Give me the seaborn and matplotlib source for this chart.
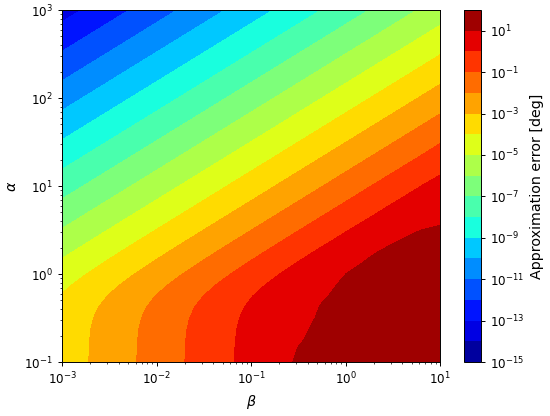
import numpy as np
import seaborn as sns
import matplotlib.pyplot as plt
from matplotlib.ticker import FixedLocator, FuncFormatter

# grid nodes (log10 of beta and alpha)
beta_exp = [-3, -2.5, -2, -1.5, -1, -0.75, -0.5, -0.25, 0, 0.25, 0.5, 0.75, 1]
alpha_exp = [-1, -0.875, -0.75, -0.625, -0.5, -0.375, -0.25, -0.125, 0,
             0.125, 0.25, 0.375, 0.5, 0.75, 1, 1.5, 2, 2.5, 3]

# log10 of approximation error [deg], one row per alpha node
log_err = [
    [-3.560, -2.575, -1.590, -0.609, 0.339, 0.757, 1.075, 1.261, 1.342, 1.372, 1.382, 1.386, 1.387],
    [-3.565, -2.580, -1.596, -0.615, 0.325, 0.728, 1.023, 1.185, 1.253, 1.278, 1.286, 1.289, 1.290],
    [-3.577, -2.592, -1.608, -0.629, 0.304, 0.694, 0.967, 1.111, 1.169, 1.190, 1.197, 1.199, 1.200],
    [-3.602, -2.617, -1.633, -0.654, 0.278, 0.665, 0.936, 1.077, 1.135, 1.155, 1.162, 1.164, 1.165],
    [-3.657, -2.672, -1.688, -0.708, 0.226, 0.618, 0.895, 1.043, 1.103, 1.125, 1.131, 1.134, 1.135],
    [-3.764, -2.779, -1.795, -0.814, 0.131, 0.541, 0.847, 1.020, 1.095, 1.122, 1.131, 1.134, 1.135],
    [-3.944, -2.959, -1.974, -0.992, -0.034, 0.400, 0.750, 0.971, 1.075, 1.115, 1.128, 1.133, 1.134],
    [-4.200, -3.215, -2.230, -1.247, -0.276, 0.186, 0.593, 0.895, 1.065, 1.137, 1.163, 1.172, 1.175],
    [-4.511, -3.526, -2.541, -1.557, -0.578, -0.100, 0.351, 0.734, 0.998, 1.134, 1.189, 1.208, 1.214],
    [-4.855, -3.870, -2.885, -1.900, -0.918, -0.432, 0.042, 0.480, 0.838, 1.068, 1.179, 1.221, 1.236],
    [-5.215, -4.230, -3.245, -2.261, -1.276, -0.786, -0.302, 0.167, 0.592, 0.926, 1.127, 1.218, 1.252],
    [-5.582, -4.597, -3.612, -2.627, -1.643, -1.151, -0.663, -0.182, 0.275, 0.673, 0.960, 1.115, 1.180],
    [-5.952, -4.967, -3.982, -2.997, -2.012, -1.520, -1.030, -0.543, -0.069, 0.373, 0.736, 0.974, 1.090],
    [-6.695, -5.710, -4.725, -3.740, -2.756, -2.264, -1.773, -1.279, -0.791, -0.311, 0.146, 0.520, 0.680],
    [-7.440, -6.455, -5.470, -4.485, -3.500, -3.008, -2.516, -2.024, -1.531, -1.041, -0.555, -0.084, 0.348],
    [-8.930, -7.945, -6.960, -5.975, -4.990, -4.498, -4.005, -3.513, -3.021, -2.528, -2.036, -1.544, -1.053],
    [-10.420, -9.435, -8.450, -7.465, -6.480, -5.988, -5.495, -5.003, -4.510, -4.018, -3.525, -3.033, -2.540],
    [-11.910, -10.925, -9.940, -8.955, -7.970, -7.478, -6.985, -6.493, -6.000, -5.508, -5.015, -4.523, -4.030],
    [-13.400, -12.415, -11.430, -10.445, -9.460, -8.968, -8.475, -7.983, -7.490, -6.998, -6.505, -6.013, -5.520],
]

levels = list(range(-15, 3))
cbar_ticks = list(range(-15, 2, 2))

sns.set_style("ticks")
plt.rcParams.update({
    "font.family": ["DejaVu Sans"],
    "font.size": 8.6,
    "axes.edgecolor": "black",
    "axes.linewidth": 0.7,
    "text.color": "black",
    "axes.labelcolor": "black",
    "xtick.color": "black",
    "ytick.color": "black",
    "xtick.major.size": 3.0,
    "ytick.major.size": 3.0,
    "xtick.minor.size": 1.7,
    "ytick.minor.size": 1.7,
    "xtick.major.width": 0.7,
    "ytick.major.width": 0.7,
    "xtick.minor.width": 0.5,
    "ytick.minor.width": 0.5,
})

fig = plt.figure(figsize=(5.5, 4.16), dpi=100)
ax = fig.add_axes([62 / 550, 54 / 416, 378 / 550, 352 / 416])
cax = fig.add_axes([464 / 550, 54 / 416, 17 / 550, 352 / 416])

cs = ax.contourf(beta_exp, alpha_exp, np.array(log_err), levels=levels, cmap="jet")
ax.set_xlim(-3, 1)
ax.set_ylim(-1, 3)

fmt = FuncFormatter(lambda v, p: r"$\mathdefault{10^{%d}}$" % int(round(v)))


def minor_locs(lo, hi):
    return [d + np.log10(k) for d in range(lo, hi) for k in range(2, 10)]


ax.xaxis.set_major_locator(FixedLocator(range(-3, 2)))
ax.xaxis.set_minor_locator(FixedLocator(minor_locs(-3, 1)))
ax.yaxis.set_major_locator(FixedLocator(range(-1, 4)))
ax.yaxis.set_minor_locator(FixedLocator(minor_locs(-1, 3)))
ax.xaxis.set_major_formatter(fmt)
ax.yaxis.set_major_formatter(fmt)
ax.set_xlabel(r"$\beta$", fontsize=10.3)
ax.set_ylabel(r"$\alpha$", fontsize=10.3)

cb = fig.colorbar(cs, cax=cax, ticks=cbar_ticks)
cb.ax.yaxis.set_major_formatter(fmt)
cb.ax.minorticks_off()
cb.outline.set_linewidth(0.7)
cb.set_label("Approximation error [deg]", fontsize=10.3)

fig.savefig("out.png", dpi=100)
